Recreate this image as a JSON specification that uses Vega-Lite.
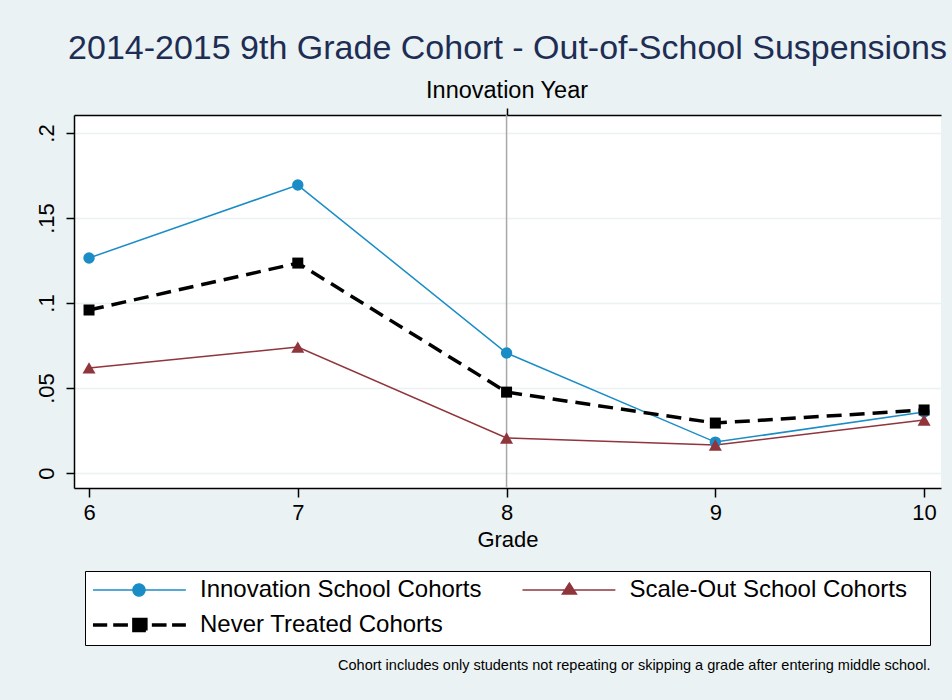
{
  "$schema": "https://vega.github.io/schema/vega-lite/v6.json",
  "width": 867,
  "height": 373,
  "autosize": "none",
  "padding": {"left": 74, "top": 115, "right": 11, "bottom": 212},
  "background": "#EAF2F3",
  "title": {
    "text": "2014-2015 9th Grade Cohort - Out-of-School Suspensions",
    "font": "Liberation Sans",
    "fontSize": 34,
    "fontWeight": "normal",
    "color": "#1E2D53",
    "anchor": "middle",
    "frame": "group",
    "baseline": "alphabetic",
    "offset": -15
  },
  "config": {
    "view": {"fill": "white", "stroke": null},
    "font": "Liberation Sans",
    "axis": {
      "labelFont": "Liberation Sans",
      "titleFont": "Liberation Sans",
      "labelColor": "black",
      "titleColor": "black",
      "domainColor": "black",
      "tickColor": "black",
      "domainWidth": 1.5,
      "tickWidth": 1.5,
      "titleFontWeight": "normal"
    }
  },
  "datasets": {
    "series": [
      {"grade": 6, "value": 0.1265, "series": "Innovation School Cohorts"},
      {"grade": 7, "value": 0.1694, "series": "Innovation School Cohorts"},
      {"grade": 8, "value": 0.0706, "series": "Innovation School Cohorts"},
      {"grade": 9, "value": 0.0182, "series": "Innovation School Cohorts"},
      {"grade": 10, "value": 0.0359, "series": "Innovation School Cohorts"},
      {"grade": 6, "value": 0.0618, "series": "Scale-Out School Cohorts"},
      {"grade": 7, "value": 0.0741, "series": "Scale-Out School Cohorts"},
      {"grade": 8, "value": 0.0206, "series": "Scale-Out School Cohorts"},
      {"grade": 9, "value": 0.0165, "series": "Scale-Out School Cohorts"},
      {"grade": 10, "value": 0.0312, "series": "Scale-Out School Cohorts"},
      {"grade": 6, "value": 0.0959, "series": "Never Treated Cohorts"},
      {"grade": 7, "value": 0.1235, "series": "Never Treated Cohorts"},
      {"grade": 8, "value": 0.0476, "series": "Never Treated Cohorts"},
      {"grade": 9, "value": 0.0294, "series": "Never Treated Cohorts"},
      {"grade": 10, "value": 0.0371, "series": "Never Treated Cohorts"}
    ],
    "marker": [{"grade": 8, "label": "Innovation Year"}]
  },
  "resolve": {"axis": {"x": "independent"}},
  "layer": [
    {
      "data": {"name": "marker"},
      "mark": {"type": "rule", "color": "#A8A8A8", "strokeWidth": 1.5},
      "encoding": {
        "x": {
          "field": "grade",
          "type": "quantitative",
          "scale": {"domain": [5.928, 10.081], "nice": false, "zero": false},
          "axis": {
            "orient": "top",
            "values": [8],
            "labelExpr": "'Innovation Year'",
            "title": null,
            "grid": false,
            "tickSize": 7,
            "labelFontSize": 23.5,
            "labelPadding": 6
          }
        }
      }
    },
    {
      "data": {"name": "series"},
      "encoding": {
        "x": {
          "field": "grade",
          "type": "quantitative",
          "scale": {"domain": [5.928, 10.081], "nice": false, "zero": false},
          "axis": {
            "orient": "bottom",
            "values": [6, 7, 8, 9, 10],
            "format": "d",
            "title": "Grade",
            "titleFontSize": 22,
            "titlePadding": 6,
            "grid": false,
            "tickSize": 9,
            "labelFontSize": 22,
            "labelPadding": 5
          }
        },
        "y": {
          "field": "value",
          "type": "quantitative",
          "scale": {"domain": [-0.0088, 0.2106], "nice": false, "zero": false},
          "axis": {
            "values": [0, 0.05, 0.1, 0.15, 0.2],
            "labelExpr": "datum.value == 0 ? '0' : substring(format(datum.value, '.2~f'), 1)",
            "labelAngle": -90,
            "labelAlign": "center",
            "labelBaseline": "bottom",
            "labelFontSize": 22,
            "labelPadding": 8,
            "tickSize": 8,
            "grid": true,
            "gridColor": "#EAF2F3",
            "gridWidth": 1.5,
            "title": "Cohort includes only students not repeating or skipping a grade after entering middle school.",
            "titleAngle": 0,
            "titleX": 856,
            "titleY": 550,
            "titleAlign": "right",
            "titleBaseline": "middle",
            "titleFontSize": 14.5,
            "titleFontWeight": "normal"
          }
        },
        "color": {
          "field": "series",
          "type": "nominal",
          "scale": {
            "domain": ["Innovation School Cohorts", "Scale-Out School Cohorts", "Never Treated Cohorts"],
            "range": ["#1A8CC6", "#90353B", "#000000"]
          },
          "legend": {
            "title": null,
            "orient": "none",
            "direction": "horizontal",
            "legendX": 11,
            "legendY": 456,
            "columns": 2,
            "columnPadding": 36.5,
            "rowPadding": 10,
            "padding": 7,
            "fillColor": "white",
            "strokeColor": "black",
            "symbolSize": 8464,
            "labelOffset": 84,
            "labelFontSize": 24,
            "labelFont": "Liberation Sans",
            "labelColor": "black",
            "labelBaseline": "middle",
            "labelLimit": 0,
            "encode": {
              "symbols": {
                "update": {
                  "shape": {"signal": "datum.value === 'Innovation School Cohorts' ? 'M-0.24,0H1.78M0.63,0A0.13,0.13,0,1,1,0.89,0A0.13,0.13,0,1,1,0.63,0Z' : datum.value === 'Scale-Out School Cohorts' ? 'M-0.24,0H1.78M0.628,0.087L0.78,-0.15L0.932,0.087ZM8.4,0' : 'M-0.24,0H0.07M0.2,0H0.52M0.65,-0.12H0.91V0.12H0.65ZM1.04,0H1.36M1.48,0H1.78'"},
                  "size": {"value": 8464},
                  "fill": {"signal": "scale('color', datum.value)"},
                  "stroke": {"signal": "scale('color', datum.value)"},
                  "strokeWidth": {"signal": "datum.value === 'Never Treated Cohorts' ? 3.5 : 1.5"},
                  "strokeDash": {"value": [1, 0]},
                  "opacity": {"value": 1},
                  "fillOpacity": {"value": 1},
                  "strokeOpacity": {"value": 1}
                }
              }
            }
          }
        }
      },
      "layer": [
        {
          "transform": [{"filter": "datum.series !== 'Never Treated Cohorts'"}],
          "mark": {"type": "line", "strokeWidth": 1.5}
        },
        {
          "transform": [{"filter": "datum.series === 'Never Treated Cohorts'"}],
          "mark": {"type": "line", "strokeWidth": 3.5, "strokeDash": [15, 8], "strokeCap": "butt"}
        },
        {
          "transform": [{"filter": "datum.series === 'Innovation School Cohorts'"}],
          "mark": {"type": "point", "shape": "circle", "size": 130, "filled": true, "opacity": 1}
        },
        {
          "transform": [{"filter": "datum.series === 'Scale-Out School Cohorts'"}],
          "mark": {"type": "point", "shape": "triangle-up", "size": 170, "filled": true, "opacity": 1}
        },
        {
          "transform": [{"filter": "datum.series === 'Never Treated Cohorts'"}],
          "mark": {"type": "point", "shape": "square", "size": 121, "filled": true, "opacity": 1}
        }
      ]
    }
  ]
}
